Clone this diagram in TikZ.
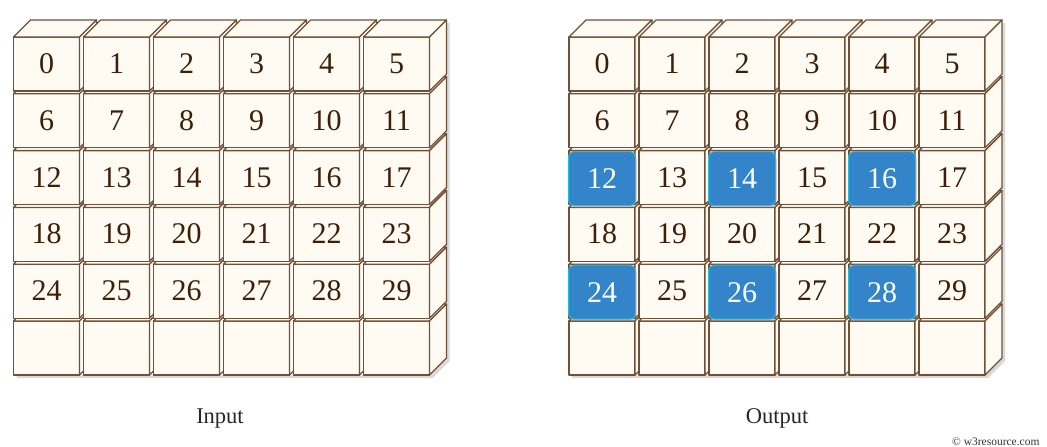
\documentclass[tikz,border=0pt]{standalone}
\usepackage{fontspec}
\setmainfont{Liberation Serif}
\usepackage{tikz}
\usetikzlibrary{shadows}
\definecolor{cubecream}{RGB}{255,251,242}
\definecolor{cubebrown}{RGB}{112,80,55}
\definecolor{numbrown}{RGB}{62,30,8}
\definecolor{hlblue}{RGB}{51,132,200}
\definecolor{hlcyan}{RGB}{38,192,218}
\tikzstyle{face} = [fill=cubecream, draw=cubebrown, line width=1.3pt, line join=round]
\tikzstyle{num} = [text=numbrown, font=\fontsize{30}{32}\selectfont, text height=20pt, text depth=0pt]
\tikzstyle{hlbox} = [rounded corners=6pt, fill=hlblue, draw=hlcyan, line width=1pt, minimum width=67pt, minimum height=54pt, inner sep=0pt, drop shadow={shadow xshift=1pt, shadow yshift=-2pt, opacity=0.35}]
\tikzstyle{caption} = [font=\fontsize{22.5}{24}\selectfont, text=black!85, anchor=base]
\tikzstyle{block} = [fill=cubecream, drop shadow={shadow xshift=3pt, shadow yshift=-3pt, opacity=0.3}]
% one cube, front top-left corner at (#1,#2)
\newcommand{\drawcube}[2]{%
  \draw[face] (#1,#2) rectangle ++(66,54);
  \draw[face] (#1,#2) -- ++(17,-17) -- ++(66,0) -- ++(-17,17) -- cycle;
  \draw[face] (#1+66,#2) -- ++(17,-17) -- ++(0,54) -- ++(-17,17) -- cycle;
}

\begin{document}
\begin{tikzpicture}[x=1pt, y=-1pt]
\useasboundingbox (0,0) rectangle (1047,447);

% Shadows under both blocks
\path[block] (13.5,37) -- (30.5,20) -- (446.5,20) -- (446.5,358) -- (429.5,375) -- (13.5,375) -- cycle;
\path[block] (569,37) -- (586,20) -- (1002,20) -- (1002,358) -- (985,375) -- (569,375) -- cycle;

% Cubes, bottom row first
\foreach \r in {5,4,...,0} {
  \foreach \c in {0,...,5} {
    \drawcube{13.5+70*\c}{37+56.8*\r}
    \drawcube{569+70*\c}{37+56.8*\r}
  }
}

% Numbers
\foreach \r in {0,...,4} {
  \foreach \c in {0,...,5} {
    \pgfmathtruncatemacro\n{6*\r+\c}
    \pgfmathtruncatemacro\hl{((\r==2) || (\r==4)) && (mod(\c,2)==0)}
    \node[num] (in-\n) at (46.5+70*\c, 63.5+56.8*\r) {\n};
    \ifnum\hl=1
      \node[num, hlbox, text=white] (out-\n) at (602+70*\c, 65+56.8*\r) {\n};
    \else
      \node[num] (out-\n) at (602+70*\c, 63.5+56.8*\r) {\n};
    \fi
  }
}

% Captions
\node[caption] (input) at (220,423) {Input};
\node[caption] (output) at (777,423) {Output};
\node[font=\fontsize{11.5}{12}\selectfont, anchor=base east, text=black!80] (credit) at (1043,445) {© w3resource.com};
\end{tikzpicture}
\end{document}
